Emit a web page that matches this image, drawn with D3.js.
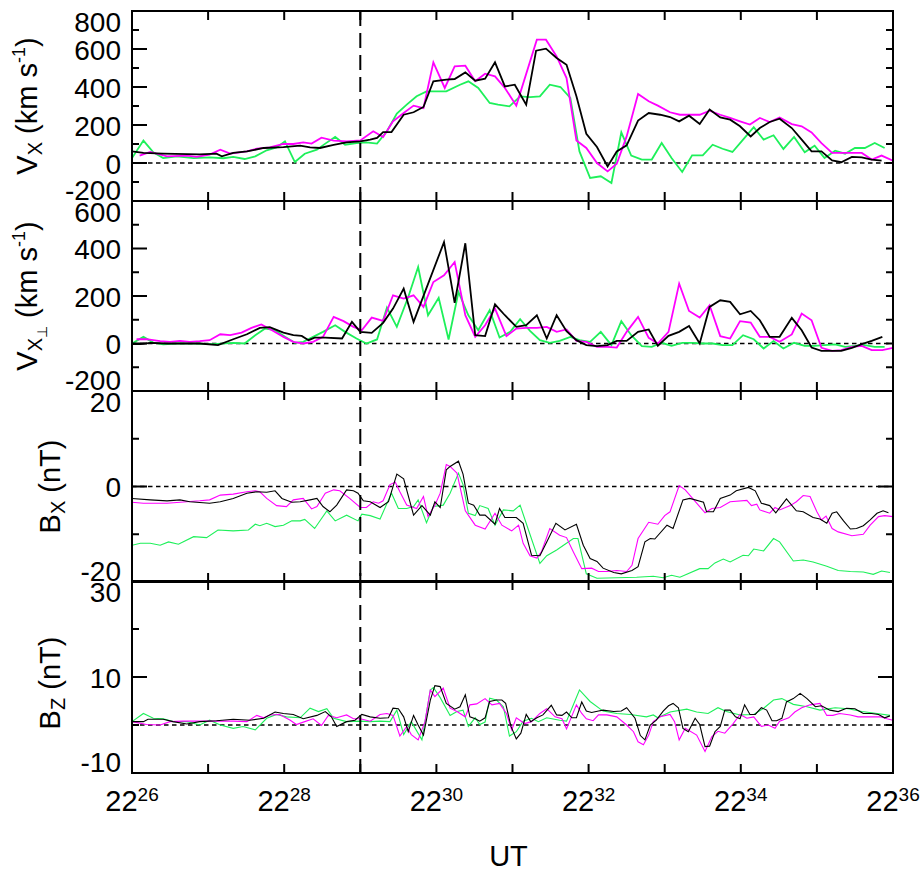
<!DOCTYPE html>
<html>
<head>
<meta charset="utf-8" />
<title>Flow velocity and field, 22:26-22:36 UT</title>
<script src="https://d3js.org/d3.v7.min.js"></script>
<style>
  body { margin: 0; background: #fff; }
  text { font-family: "Liberation Sans", Arial, sans-serif; fill: #000; }
</style>
</head>
<body>
<div id="chart"></div>
<script>
// time is minutes after 22:26 UT
const hourLabel = "22";
const timeLabelMinutes = [0, 2, 4, 6, 8, 10];
const timeLabelSup = ["26", "28", "30", "32", "34", "36"];
const eventTime = 3;   // 22:29 marker

const vxTicks = [-200, 0, 200, 400, 600, 800];
const vperpTicks = [-200, 0, 200, 400, 600];
const bxTicks = [-20, 0, 20];
const bzTicks = [-10, 10, 30];

// Vx (km/s)
const vxBlack = [[0,61],[0.15,53],[0.41,49],[0.89,45],[1.11,49],[1.18,35],[1.33,53],[1.51,61],[1.73,79],[1.99,84],[2.21,91],[2.34,82],[2.47,79],[2.65,96],[2.82,109],[3.00,114],[3.13,123],[3.22,132],[3.30,163],[3.41,163],[3.57,254],[3.70,267],[3.83,295],[3.96,430],[4.13,439],[4.24,442],[4.38,477],[4.51,433],[4.64,444],[4.77,530],[4.90,403],[5.03,412],[5.18,307],[5.31,591],[5.44,602],[5.58,553],[5.71,517],[5.84,351],[5.97,154],[6.11,84],[6.25,-18],[6.37,61],[6.50,93],[6.65,223],[6.79,263],[6.94,254],[7.07,242],[7.19,219],[7.32,249],[7.46,205],[7.59,281],[7.73,240],[7.86,228],[7.99,193],[8.13,140],[8.25,184],[8.38,216],[8.51,233],[8.67,184],[8.80,123],[8.93,61],[9.06,61],[9.20,14],[9.32,4],[9.46,32],[9.59,30],[9.72,18],[9.85,12]];
const vxMagenta = [[0.10,39],[0.24,58],[0.46,35],[0.72,39],[0.85,32],[1.02,44],[1.16,70],[1.29,49],[1.51,61],[1.64,75],[1.81,82],[1.99,100],[2.12,100],[2.25,109],[2.36,102],[2.49,133],[2.65,118],[2.82,114],[3.00,119],[3.17,167],[3.30,137],[3.43,219],[3.57,263],[3.70,302],[3.83,289],[3.96,530],[4.11,395],[4.24,509],[4.38,512],[4.51,430],[4.64,470],[4.77,456],[4.90,395],[5.05,302],[5.32,649],[5.44,649],[5.58,561],[5.71,447],[5.84,119],[5.97,79],[6.11,0],[6.25,-44],[6.37,-4],[6.50,140],[6.65,363],[6.79,325],[6.91,302],[7.07,267],[7.20,254],[7.46,254],[7.59,275],[7.73,254],[7.86,237],[7.99,219],[8.12,202],[8.25,237],[8.38,216],[8.51,240],[8.67,205],[8.80,193],[8.93,161],[9.06,105],[9.20,53],[9.32,53],[9.46,53],[9.59,53],[9.72,18],[9.85,39],[10.0,12]];
const vxGreen = [[0,26],[0.15,118],[0.28,56],[0.41,26],[0.59,35],[0.81,26],[1.02,30],[1.20,25],[1.33,32],[1.48,21],[1.62,35],[1.77,67],[1.90,82],[2.01,114],[2.14,5],[2.27,49],[2.43,70],[2.54,102],[2.67,137],[2.80,96],[2.95,105],[3.08,109],[3.22,102],[3.35,167],[3.48,260],[3.61,307],[3.74,351],[3.87,377],[4.13,377],[4.31,412],[4.42,430],[4.55,395],[4.70,316],[4.81,307],[4.96,298],[5.10,351],[5.23,347],[5.36,351],[5.49,412],[5.63,400],[5.76,342],[5.88,61],[6.02,-79],[6.16,-70],[6.30,-105],[6.43,161],[6.56,39],[6.70,18],[6.83,18],[6.96,105],[7.09,26],[7.23,-47],[7.36,40],[7.50,40],[7.63,96],[7.76,75],[7.89,58],[8.03,123],[8.17,188],[8.30,123],[8.43,146],[8.56,74],[8.70,137],[8.84,56],[8.97,91],[9.10,26],[9.24,65],[9.37,49],[9.50,79],[9.63,79],[9.76,105],[9.89,79]];

// Vx perpendicular (km/s)
const vperpBlack = [[0,-3],[0.11,-3],[0.24,3],[0.46,0],[0.72,0],[0.89,0],[1.13,-7],[1.33,18],[1.51,39],[1.68,66],[1.81,69],[1.99,46],[2.12,35],[2.23,32],[2.32,14],[2.40,25],[2.54,25],[2.76,21],[2.89,91],[3.00,49],[3.15,45],[3.30,87],[3.43,147],[3.57,231],[3.70,91],[4.10,427],[4.24,171],[4.38,422],[4.51,35],[4.64,31],[4.77,165],[4.90,119],[5.05,70],[5.18,77],[5.32,119],[5.45,21],[5.58,119],[5.71,52],[5.84,14],[5.97,-7],[6.11,-11],[6.25,-7],[6.37,11],[6.50,11],[6.65,49],[6.79,59],[6.91,-10],[7.05,32],[7.19,49],[7.32,74],[7.46,0],[7.59,154],[7.73,182],[7.86,175],[7.99,123],[8.13,137],[8.25,98],[8.38,28],[8.51,28],[8.67,108],[8.80,56],[8.93,-17],[9.06,-31],[9.20,-31],[9.32,-31],[9.46,-18],[9.59,-3],[9.72,11],[9.86,28]];
const vperpMagenta = [[0.06,18],[0.19,18],[0.37,10],[0.50,7],[0.63,11],[0.76,7],[0.89,10],[1.02,14],[1.16,39],[1.29,35],[1.44,46],[1.57,66],[1.70,80],[1.84,56],[1.99,28],[2.12,7],[2.25,0],[2.38,7],[2.51,28],[2.65,112],[2.78,94],[2.91,70],[3.02,56],[3.15,109],[3.30,95],[3.43,203],[3.57,189],[3.70,203],[3.83,154],[3.96,259],[4.10,287],[4.24,343],[4.38,119],[4.51,28],[4.64,77],[4.77,147],[4.92,31],[5.05,63],[5.18,66],[5.32,66],[5.45,70],[5.58,49],[5.71,59],[5.84,11],[5.97,7],[6.11,-14],[6.25,-14],[6.37,-17],[6.50,49],[6.65,112],[6.79,24],[6.91,0],[7.05,49],[7.19,252],[7.32,137],[7.46,109],[7.59,161],[7.73,31],[7.86,21],[7.99,94],[8.13,88],[8.25,28],[8.38,28],[8.51,7],[8.67,38],[8.80,126],[8.93,98],[9.06,-18],[9.20,-31],[9.32,-28],[9.46,-14],[9.59,-10],[9.72,-28],[9.86,-28],[10.0,-18]];
const vperpGreen = [[0,0],[0.15,28],[0.28,4],[0.41,-4],[0.59,0],[0.81,0],[1.07,-3],[1.33,3],[1.48,0],[1.62,35],[1.75,63],[1.88,56],[2.01,28],[2.14,3],[2.25,7],[2.38,28],[2.51,49],[2.67,77],[2.80,49],[2.95,21],[3.08,0],[3.22,17],[3.35,151],[3.48,70],[3.63,196],[3.76,322],[3.89,119],[4.03,192],[4.16,17],[4.29,217],[4.42,119],[4.55,56],[4.70,140],[4.83,25],[4.97,49],[5.10,102],[5.23,53],[5.36,14],[5.49,3],[5.62,11],[5.76,28],[5.88,14],[6.02,7],[6.16,49],[6.30,-7],[6.43,94],[6.56,35],[6.70,-11],[6.83,-14],[6.96,3],[7.09,-10],[7.23,3],[7.36,3],[7.50,0],[7.63,0],[7.76,-7],[7.89,-7],[8.03,35],[8.17,18],[8.30,-21],[8.43,10],[8.56,-21],[8.70,3],[8.84,-10],[8.97,-10],[9.10,-7],[9.24,-4],[9.37,-14],[9.50,-10],[9.63,-7],[9.76,-14],[9.89,-14]];

// Bx (nT)
const bxBlack = [[0,-2.5],[0.24,-2.8],[0.46,-3.0],[0.63,-2.8],[0.76,-3.2],[1.02,-3.5],[1.16,-3.2],[1.33,-2.5],[1.51,-1.4],[1.64,-1.1],[1.77,-1.2],[1.88,-0.9],[1.97,-2.5],[2.10,-3.3],[2.21,-3.2],[2.34,-2.8],[2.43,-2.5],[2.51,-4.2],[2.60,-5.3],[2.69,-3.9],[2.82,-0.7],[2.91,-0.9],[2.97,-1.4],[3.04,-3.0],[3.13,-3.2],[3.26,-4.4],[3.37,-3.2],[3.48,2.6],[3.57,1.6],[3.70,-6.0],[3.81,-4.0],[3.92,-6.0],[3.98,-3.2],[4.05,-4.4],[4.13,3.5],[4.18,4.2],[4.29,5.3],[4.35,2.6],[4.42,-3.5],[4.49,-3.9],[4.57,-6.0],[4.64,-6.0],[4.77,-7.9],[4.83,-4.6],[4.90,-6.5],[5.05,-6.5],[5.14,-7.7],[5.25,-14.4],[5.36,-14.5],[5.45,-11.6],[5.57,-7.7],[5.69,-9.1],[5.84,-7.9],[5.93,-12.3],[6.02,-15.1],[6.11,-15.7],[6.19,-17.1],[6.33,-18.0],[6.43,-18.3],[6.57,-17.6],[6.65,-16.8],[6.74,-11.6],[6.81,-10.9],[6.87,-11.0],[7.03,-8.1],[7.11,-8.8],[7.24,-2.8],[7.33,-2.5],[7.51,-3.3],[7.55,-5.3],[7.64,-5.3],[7.73,-2.5],[7.86,-1.8],[7.94,-0.9],[8.10,-0.2],[8.19,-0.9],[8.27,-3.5],[8.38,-4.0],[8.46,-5.5],[8.60,-2.6],[8.73,-5.1],[8.82,-5.3],[8.95,-6.5],[9.04,-6.8],[9.13,-7.7],[9.20,-5.6],[9.26,-5.3],[9.35,-7.2],[9.44,-8.9],[9.52,-8.8],[9.61,-8.2],[9.70,-7.0],[9.79,-5.6],[9.87,-5.1],[9.94,-5.5]];
const bxMagenta = [[0,-3.3],[0.15,-3.5],[0.46,-3.5],[0.72,-3.2],[0.89,-3.0],[1.02,-2.8],[1.16,-1.8],[1.33,-1.6],[1.51,-1.1],[1.62,-0.9],[1.68,-1.1],[1.77,-2.5],[1.90,-4.0],[2.03,-4.2],[2.12,-2.8],[2.25,-2.5],[2.36,-4.7],[2.43,-4.2],[2.54,-1.4],[2.65,-0.7],[2.73,-0.9],[2.86,-2.5],[3.00,-4.4],[3.08,-4.4],[3.17,-3.2],[3.24,-3.5],[3.30,-3.0],[3.39,0.4],[3.46,0.9],[3.52,-1.1],[3.61,-3.9],[3.74,-4.6],[3.83,-2.1],[3.89,-6.3],[3.98,-3.9],[4.05,-1.4],[4.13,4.6],[4.18,4.2],[4.27,2.8],[4.38,-5.1],[4.51,-8.1],[4.64,-8.9],[4.77,-5.6],[4.86,-8.1],[4.99,-9.3],[5.08,-8.1],[5.14,-11.9],[5.23,-14.5],[5.32,-15.0],[5.38,-13.7],[5.49,-8.8],[5.62,-10.2],[5.71,-10.7],[5.80,-13.7],[5.91,-17.2],[6.04,-17.1],[6.13,-17.8],[6.24,-17.8],[6.37,-17.6],[6.50,-17.8],[6.57,-16.5],[6.65,-10.9],[6.79,-7.5],[6.91,-7.9],[7.00,-6.1],[7.07,-5.3],[7.19,0.2],[7.27,-0.7],[7.42,-3.5],[7.53,-5.5],[7.62,-4.6],[7.73,-4.4],[7.86,-3.2],[8.08,-2.9],[8.14,-4.0],[8.21,-3.7],[8.25,-4.9],[8.38,-5.6],[8.45,-4.4],[8.51,-4.9],[8.65,-4.0],[8.73,-3.2],[8.82,-1.9],[8.91,-2.1],[9.00,-5.3],[9.06,-7.0],[9.12,-6.2],[9.20,-8.8],[9.28,-9.5],[9.46,-10.3],[9.61,-10.0],[9.70,-8.1],[9.81,-6.3],[9.89,-6.1],[10.0,-6.3]];
const bxGreen = [[0,-12.3],[0.11,-11.9],[0.24,-11.9],[0.37,-12.3],[0.48,-11.6],[0.61,-12.1],[0.81,-10.5],[0.98,-10.7],[1.13,-9.1],[1.33,-9.3],[1.53,-9.1],[1.62,-7.9],[1.68,-8.2],[1.77,-7.7],[1.88,-8.4],[1.99,-8.1],[2.10,-7.2],[2.21,-7.2],[2.27,-6.9],[2.40,-8.8],[2.56,-5.1],[2.67,-7.2],[2.82,-6.0],[2.97,-7.2],[3.02,-5.8],[3.13,-6.1],[3.26,-6.8],[3.41,-1.4],[3.50,-4.6],[3.61,-4.6],[3.70,-4.2],[3.76,-2.8],[3.87,-7.6],[3.96,-4.2],[4.09,-3.9],[4.18,-1.4],[4.29,2.8],[4.35,0.4],[4.42,-5.6],[4.51,-6.1],[4.57,-4.0],[4.68,-4.6],[4.77,-8.1],[4.88,-4.9],[5.01,-5.1],[5.10,-3.9],[5.21,-9.1],[5.36,-16.1],[5.45,-14.5],[5.58,-13.3],[5.69,-12.1],[5.80,-10.9],[5.86,-10.9],[5.97,-18.3],[6.11,-19.2],[6.63,-19.0],[6.85,-18.8],[6.98,-19.1],[7.09,-18.6],[7.20,-19.0],[7.46,-17.2],[7.57,-17.2],[7.66,-16.0],[7.77,-15.2],[7.86,-15.8],[8.03,-14.4],[8.10,-14.5],[8.17,-13.1],[8.30,-13.5],[8.43,-10.9],[8.51,-11.6],[8.69,-15.6],[8.82,-15.4],[8.95,-15.8],[9.13,-16.7],[9.28,-17.6],[9.44,-17.8],[9.61,-17.9],[9.74,-18.4],[9.85,-17.7],[9.96,-18.0]];

// Bz (nT)
const bzBlack = [[0,0.7],[0.15,0.7],[0.21,1.2],[0.41,1.2],[0.54,0.7],[0.72,0.2],[0.89,0.7],[1.11,0.9],[1.33,1.2],[1.55,1.0],[1.73,1.4],[1.88,2.7],[1.99,2.4],[2.12,2.2],[2.25,1.3],[2.43,2.0],[2.54,2.8],[2.62,1.7],[2.69,-0.3],[2.82,0.7],[2.93,1.0],[3.02,2.2],[3.13,1.7],[3.26,1.4],[3.37,1.5],[3.43,3.5],[3.50,3.4],[3.57,1.7],[3.63,-1.4],[3.70,2.0],[3.76,0],[3.83,-2.1],[3.92,5.2],[3.98,8.2],[4.05,8.0],[4.13,4.5],[4.24,3.3],[4.31,3.8],[4.38,6.3],[4.44,1.7],[4.51,1.3],[4.57,0.8],[4.64,1.5],[4.70,4.9],[4.79,5.2],[4.86,5.2],[4.91,4.5],[4.98,-0.3],[5.05,-2.9],[5.11,-1.7],[5.18,2.2],[5.24,0.7],[5.32,1.5],[5.40,2.1],[5.51,4.1],[5.58,2.1],[5.65,2.0],[5.71,2.7],[5.78,1.5],[5.84,1.5],[5.91,4.8],[5.97,2.9],[6.04,2.6],[6.13,2.9],[6.19,3.1],[6.33,2.8],[6.43,2.9],[6.50,3.6],[6.61,1.4],[6.68,-2.2],[6.74,-3.1],[6.81,0],[6.89,1.0],[6.98,2.9],[7.05,4.0],[7.11,4.5],[7.18,3.6],[7.24,-0.7],[7.31,-1.4],[7.40,1.4],[7.46,0.1],[7.53,-4.5],[7.59,-4.4],[7.66,-1.4],[7.73,-0.3],[7.79,3.1],[7.86,3.1],[7.93,1.7],[7.99,1.3],[8.05,4.2],[8.12,2.2],[8.19,2.2],[8.27,3.6],[8.34,3.1],[8.41,0.9],[8.47,0.9],[8.54,1.4],[8.60,4.8],[8.69,5.5],[8.78,6.6],[8.87,5.5],[8.98,3.8],[9.06,4.0],[9.17,3.1],[9.28,2.8],[9.39,3.5],[9.50,3.4],[9.61,2.4],[9.72,2.4],[9.81,2.2],[9.89,1.5],[9.96,1.9]];
const bzMagenta = [[0,0.7],[0.19,0.1],[0.37,0],[0.50,0.7],[0.67,0.8],[0.89,0.8],[1.11,0.8],[1.33,0.8],[1.51,0.7],[1.64,2.0],[1.73,1.5],[1.81,2.1],[1.94,2.2],[2.08,1.0],[2.16,0.1],[2.27,0.7],[2.38,1.3],[2.49,-0.1],[2.58,2.0],[2.69,1.5],[2.82,2.1],[2.91,1.3],[3.00,1.3],[3.13,0.8],[3.26,2.2],[3.35,2.4],[3.43,2.0],[3.52,-2.3],[3.61,-0.3],[3.67,-2.0],[3.76,-3.1],[3.85,0.7],[3.92,7.3],[3.98,5.9],[4.09,7.7],[4.18,3.5],[4.27,2.8],[4.38,1.7],[4.44,4.2],[4.53,4.4],[4.64,5.5],[4.73,4.2],[4.83,4.5],[4.92,2.4],[4.99,-1.0],[5.05,1.5],[5.16,0.3],[5.25,0.7],[5.36,2.4],[5.45,3.4],[5.56,1.7],[5.65,1.3],[5.71,-0.8],[5.84,4.2],[5.91,2.4],[5.97,1.3],[6.06,0.9],[6.13,2.1],[6.24,2.1],[6.37,1.7],[6.50,0],[6.59,-1.4],[6.65,-3.5],[6.72,-4.1],[6.79,-2.1],[6.85,0.7],[6.94,1.7],[7.07,2.2],[7.13,0.7],[7.19,-3.1],[7.27,-0.7],[7.42,-2.1],[7.53,-5.5],[7.62,-2.4],[7.70,-1.3],[7.79,-1.7],[7.90,0.3],[7.99,2.2],[8.08,1.4],[8.17,1.7],[8.27,-0.3],[8.36,0],[8.45,-0.7],[8.51,0.8],[8.63,1.5],[8.71,2.7],[8.80,3.6],[8.91,4.2],[9.04,4.5],[9.13,2.0],[9.21,2.0],[9.30,2.4],[9.44,2.1],[9.54,1.7],[9.70,1.7],[9.83,1.7],[9.92,1.3],[10.0,1.0]];
const bzGreen = [[0,0.7],[0.15,2.4],[0.28,1.4],[0.41,1.3],[0.54,0.7],[0.72,0.7],[0.89,0],[1.02,1.0],[1.16,0],[1.33,-0.7],[1.46,-0.3],[1.62,-1.0],[1.77,1.4],[1.90,2.2],[2.03,1.7],[2.21,1.5],[2.34,3.5],[2.45,2.8],[2.56,3.4],[2.65,1.4],[2.82,0.7],[3.00,0.8],[3.13,0.7],[3.26,0.8],[3.39,0.7],[3.48,3.1],[3.57,-2.0],[3.67,0.7],[3.81,-3.1],[3.92,7.3],[3.96,7.8],[4.05,5.7],[4.18,2.0],[4.27,2.8],[4.35,3.1],[4.42,-0.3],[4.51,1.5],[4.57,0.1],[4.64,0.6],[4.70,5.6],[4.79,5.2],[4.88,3.8],[4.96,-2.3],[5.05,-1.4],[5.14,0.8],[5.25,1.4],[5.34,0.7],[5.45,1.5],[5.62,1.0],[5.71,0.8],[5.88,7.3],[6.02,4.9],[6.19,2.9],[6.37,2.4],[6.55,2.2],[6.76,1.7],[6.85,2.1],[6.91,1.5],[7.07,2.7],[7.29,3.3],[7.42,2.7],[7.57,2.4],[7.70,3.6],[7.81,2.8],[7.99,2.1],[8.17,2.2],[8.30,3.5],[8.43,5.2],[8.54,5.5],[8.69,4.3],[8.87,3.8],[9.04,3.1],[9.24,3.6],[9.41,3.4],[9.59,2.8],[9.79,2.4],[9.96,2.0]];

const colors = { black: "#000000", magenta: "#ff00ff", green: "#1ef05a" };

const width = 922, height = 874;
const left = 132, right = 893;

const panels = [
    { top: 11,  bottom: 201, domain: [-200, 800], ticks: vxTicks, minor: 100, lw: 1.8, rightMajor: false,
      series: [["green", vxGreen], ["magenta", vxMagenta], ["black", vxBlack]],
      title: [["V"], ["X", "sub"], [" (km s"], ["-1", "sup"], [")"]], titleX: 37, titleShift: 0 },
    { top: 201, bottom: 391, domain: [-200, 600], ticks: vperpTicks, minor: 100, lw: 1.8, rightMajor: false,
      series: [["green", vperpGreen], ["magenta", vperpMagenta], ["black", vperpBlack]],
      title: [["V"], ["X", "sub"], ["\u22a5", "subsub"], [" (km s"], ["-1", "sup"], [")"]], titleX: 37, titleShift: 0 },
    { top: 391, bottom: 582, domain: [-20, 20], ticks: bxTicks, minor: 10, lw: 1.1, rightMajor: true,
      series: [["green", bxGreen], ["magenta", bxMagenta], ["black", bxBlack]],
      title: [["B"], ["X", "sub"], [" (nT)"]], titleX: 60, titleShift: 0 },
    { top: 581, bottom: 773, domain: [-10, 30], ticks: bzTicks, minor: 10, lw: 1.1, rightMajor: true,
      series: [["green", bzGreen], ["magenta", bzMagenta], ["black", bzBlack]],
      title: [["B"], ["Z", "sub"], [" (nT)"]], titleX: 60, titleShift: 6 }
];

const svg = d3.select("#chart").append("svg")
    .attr("width", width)
    .attr("height", height);

const x = d3.scaleLinear().domain([0, 10]).range([left, right]);

panels.forEach(function(p, i) {
    const y = d3.scaleLinear().domain(p.domain).range([p.bottom, p.top]);
    const g = svg.append("g");

    g.append("clipPath").attr("id", "clip" + i)
        .append("rect")
        .attr("x", left).attr("y", p.top)
        .attr("width", right - left).attr("height", p.bottom - p.top);

    // zero line
    g.append("line")
        .attr("x1", left).attr("x2", right)
        .attr("y1", y(0)).attr("y2", y(0))
        .attr("stroke", "#000").attr("stroke-width", 1.5)
        .attr("stroke-dasharray", "4.5,3.5");

    const line = d3.line().x(d => x(d[0])).y(d => y(d[1]));
    p.series.forEach(function(s) {
        g.append("path")
            .datum(s[1])
            .attr("clip-path", "url(#clip" + i + ")")
            .attr("d", line)
            .attr("fill", "none")
            .attr("stroke", colors[s[0]])
            .attr("stroke-width", p.lw)
            .attr("stroke-linejoin", "miter");
    });

    // frame
    g.append("rect")
        .attr("x", left).attr("y", p.top)
        .attr("width", right - left).attr("height", p.bottom - p.top)
        .attr("fill", "none").attr("stroke", "#000").attr("stroke-width", 2);

    // minute ticks, top and bottom
    d3.range(1, 10).forEach(function(t) {
        g.append("line").attr("x1", x(t)).attr("x2", x(t))
            .attr("y1", p.top).attr("y2", p.top + 9)
            .attr("stroke", "#000").attr("stroke-width", 2);
        g.append("line").attr("x1", x(t)).attr("x2", x(t))
            .attr("y1", p.bottom).attr("y2", p.bottom - 9)
            .attr("stroke", "#000").attr("stroke-width", 2);
    });

    // y ticks
    d3.range(p.domain[0], p.domain[1] + 0.001, p.minor).forEach(function(v) {
        const major = p.ticks.indexOf(v) >= 0;
        const lenL = major ? 15 : 7;
        const lenR = (major && p.rightMajor) ? 15 : 7;
        g.append("line").attr("x1", left).attr("x2", left + lenL)
            .attr("y1", y(v)).attr("y2", y(v))
            .attr("stroke", "#000").attr("stroke-width", 2);
        g.append("line").attr("x1", right).attr("x2", right - lenR)
            .attr("y1", y(v)).attr("y2", y(v))
            .attr("stroke", "#000").attr("stroke-width", 2);
    });

    // tick labels (end labels pulled inside the panel)
    p.ticks.forEach(function(v) {
        let ty = y(v) + 10.5;
        if (v === p.domain[1]) ty = p.top + 21;
        if (v === p.domain[0]) ty = p.bottom - 1;
        g.append("text")
            .attr("x", 121).attr("y", ty)
            .attr("text-anchor", "end")
            .style("font-size", "28px")
            .text(String(v));
    });

    // axis title
    const cy = (p.top + p.bottom) / 2 + p.titleShift;
    const title = g.append("text")
        .attr("transform", `translate(${p.titleX},${cy}) rotate(-90)`)
        .attr("text-anchor", "middle")
        .style("font-size", "29px");
    let shift = 0;
    p.title.forEach(function(part) {
        const kind = part[1] || "base";
        const target = kind === "sub" ? 5 : kind === "subsub" ? 10 : kind === "sup" ? -12 : 0;
        const size = kind === "sub" ? 20 : kind === "subsub" ? 14 : kind === "sup" ? 18 : 29;
        title.append("tspan")
            .attr("dy", target - shift)
            .style("font-size", size + "px")
            .text(part[0]);
        shift = target;
    });
});

// event marker at 22:29 through all panels
svg.append("line")
    .attr("x1", x(eventTime)).attr("x2", x(eventTime))
    .attr("y1", panels[0].top).attr("y2", panels[3].bottom)
    .attr("stroke", "#000").attr("stroke-width", 2)
    .attr("stroke-dasharray", "15,7");

// time axis labels
timeLabelMinutes.forEach(function(t, i) {
    const lab = svg.append("text")
        .attr("x", x(t)).attr("y", 811)
        .attr("text-anchor", "middle")
        .style("font-size", "29px");
    lab.append("tspan").text(hourLabel);
    lab.append("tspan").attr("dy", -10).style("font-size", "19px").text(timeLabelSup[i]);
});

svg.append("text")
    .attr("x", (left + right) / 2 - 4).attr("y", 866)
    .attr("text-anchor", "middle")
    .style("font-size", "29px")
    .text("UT");
</script>
</body>
</html>
